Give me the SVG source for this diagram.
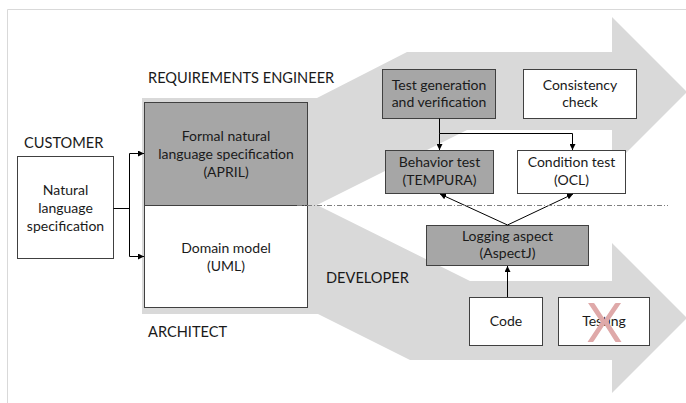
<svg xmlns="http://www.w3.org/2000/svg" width="686" height="403" viewBox="0 0 686 403">
<defs>
<marker id="ah" viewBox="0 0 10 10" refX="10" refY="5" markerWidth="6" markerHeight="6" markerUnits="userSpaceOnUse" orient="auto">
<path d="M0,0 L10,5 L0,10 Z" fill="#000"/>
</marker>
<style>
text{font-family:Lato,"Open Sans","Liberation Sans",sans-serif;font-size:14px;fill:#1a1a1a;text-anchor:middle}
.lbl{text-anchor:start;font-size:14.6px}
.dark{fill:#a6a6a6;stroke:#404040;stroke-width:1}
.light{fill:#fff;stroke:#404040;stroke-width:1}
.con{fill:none;stroke:#000;stroke-width:1}
</style>
</defs>
<rect width="686" height="403" fill="#fff"/>
<path d="M7.5,403 V9.5 H686" fill="none" stroke="#d9d9d9" stroke-width="1"/>
<g id="background">
<path d="M142,98 L317,98 L407,52 L612,52 L612,17 L687,92 L612,167 L612,130 L467,130 L317,205 L470,281 L612,281 L612,243 L687,318 L612,393 L612,360 L410,360 L318,314 L142,314 Z" fill="#d9d9d9"/>
</g>
<g id="labels">
<text class="lbl" x="24" y="148">CUSTOMER</text>
<text class="lbl" x="148" y="83">REQUIREMENTS ENGINEER</text>
<text class="lbl" x="148" y="337">ARCHITECT</text>
<text class="lbl" x="326" y="283">DEVELOPER</text>
</g>
<g id="customer-spec">
<rect class="light" x="17.5" y="156.5" width="96" height="102"/>
<text x="65.5" y="195">Natural</text>
<text x="65.5" y="213">language</text>
<text x="65.5" y="231">specification</text>
</g>
<g id="formal-spec">
<rect class="dark" x="144.5" y="102.5" width="163" height="103"/>
<text x="226" y="141">Formal natural</text>
<text x="226" y="159">language specification</text>
<text x="226" y="177">(APRIL)</text>
</g>
<g id="domain-model">
<rect class="light" x="144.5" y="205.5" width="163" height="102"/>
<text x="226" y="253">Domain model</text>
<text x="226" y="271">(UML)</text>
</g>
<g id="test-generation">
<rect class="dark" x="382.5" y="69.5" width="113" height="49"/>
<text x="439" y="90">Test generation</text>
<text x="439" y="107">and verification</text>
</g>
<g id="consistency-check">
<rect class="light" x="523.5" y="69.5" width="113" height="49"/>
<text x="580" y="90">Consistency</text>
<text x="580" y="107">check</text>
</g>
<g id="behavior-test">
<rect class="dark" x="385.5" y="150.5" width="108" height="43"/>
<text x="439.5" y="167">Behavior test</text>
<text x="439.5" y="185">(TEMPURA)</text>
</g>
<g id="condition-test">
<rect class="light" x="517.5" y="150.5" width="108" height="43"/>
<text x="571.5" y="167">Condition test</text>
<text x="571.5" y="185">(OCL)</text>
</g>
<g id="logging-aspect">
<rect class="dark" x="426.5" y="225.5" width="162" height="40"/>
<text x="507.5" y="241">Logging aspect</text>
<text x="507.5" y="258">(AspectJ)</text>
</g>
<g id="code">
<rect class="light" x="469.5" y="297.5" width="73" height="48"/>
<text x="506" y="326">Code</text>
</g>
<g id="testing">
<rect class="light" x="558.5" y="297.5" width="91" height="48"/>
<text x="604" y="326">Testing</text>
<text x="604.5" y="342" style="font-size:54px;fill:#dfa9a9">X</text>
</g>
<g id="connectors">
<path class="con" d="M113.5,208.5 H129.5 M129.5,153.5 V256.5"/>
<path class="con" d="M129.5,153.5 H144" marker-end="url(#ah)"/>
<path class="con" d="M129.5,256.5 H144" marker-end="url(#ah)"/>
<path class="con" d="M439.5,118.5 V133.5 H572.5"/>
<path class="con" d="M439.5,133.5 V150" marker-end="url(#ah)"/>
<path class="con" d="M572.5,133.5 V150" marker-end="url(#ah)"/>
<path class="con" d="M507.5,225 L440,194" marker-end="url(#ah)"/>
<path class="con" d="M507.5,225 L573,194" marker-end="url(#ah)"/>
<path class="con" d="M507.5,297 V266" marker-end="url(#ah)"/>
<path d="M297,205.5 H668" fill="none" stroke="#808080" stroke-width="1" stroke-dasharray="5 2 1 2"/>
</g>
</svg>
